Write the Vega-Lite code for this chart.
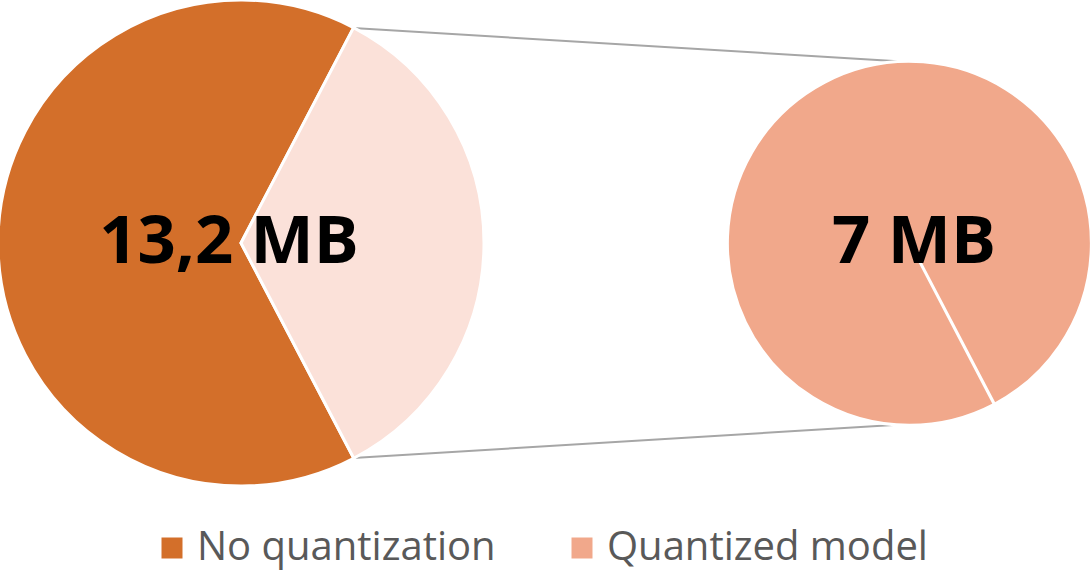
{
  "$schema": "https://vega.github.io/schema/vega-lite/v6.json",
  "width": 1092,
  "height": 577,
  "autosize": {"type": "none"},
  "padding": 0,
  "background": "white",
  "data": {
    "values": [
      {"pie": "Main", "slice": "No quantization", "size": 13.2},
      {"pie": "Main", "slice": "Other", "size": 7},
      {"pie": "Detail", "slice": "Quantized model", "size": 7}
    ]
  },
  "layer": [
    {
      "data": {"values": [{"c": "top"}]},
      "mark": {"type": "rule", "color": "#A6A6A6", "strokeWidth": 2, "xOffset": 112, "yOffset": -215, "y2Offset": -181},
      "encoding": {
        "x": {"datum": "Main", "type": "nominal"},
        "x2": {"datum": "Detail"},
        "y": {"datum": "Main", "type": "nominal"},
        "y2": {"datum": "Detail"}
      }
    },
    {
      "data": {"values": [{"c": "bottom"}]},
      "mark": {"type": "rule", "color": "#A6A6A6", "strokeWidth": 2, "xOffset": 112, "yOffset": 215, "y2Offset": 181},
      "encoding": {
        "x": {"datum": "Main", "type": "nominal"},
        "x2": {"datum": "Detail"},
        "y": {"datum": "Main", "type": "nominal"},
        "y2": {"datum": "Detail"}
      }
    },
    {
      "transform": [{"filter": "datum.pie === 'Main'"}],
      "mark": {"type": "arc", "radius": 243, "stroke": "white", "strokeWidth": 3},
      "encoding": {
        "x": {"field": "pie", "type": "nominal"},
        "y": {"field": "pie", "type": "nominal"},
        "theta": {"field": "size", "type": "quantitative", "stack": true, "scale": {"range": [0.4817, 6.7649]}},
        "order": {"field": "slice", "sort": "descending"},
        "color": {"field": "slice", "type": "nominal"}
      }
    },
    {
      "transform": [{"filter": "datum.pie === 'Detail'"}],
      "mark": {"type": "arc", "radius": 182, "stroke": "white", "strokeWidth": 3},
      "encoding": {
        "x": {"field": "pie", "type": "nominal"},
        "y": {"field": "pie", "type": "nominal"},
        "theta": {"field": "size", "type": "quantitative", "stack": true, "scale": {"range": [2.6599, 8.9421]}},
        "color": {"field": "slice", "type": "nominal"}
      }
    },
    {
      "transform": [
        {"filter": "datum.slice === 'No quantization'"},
        {"calculate": "replace(format(datum.size, '.1~f'), '.', ',') + ' MB'", "as": "label"}
      ],
      "mark": {"type": "text", "font": "Open Sans", "fontWeight": "bold", "fontSize": 67, "color": "black", "align": "center", "baseline": "alphabetic", "dx": -12, "dy": 20},
      "encoding": {
        "x": {"field": "pie", "type": "nominal"},
        "y": {"field": "pie", "type": "nominal"},
        "text": {"field": "label"}
      }
    },
    {
      "transform": [
        {"filter": "datum.slice === 'Quantized model'"},
        {"calculate": "replace(format(datum.size, '.1~f'), '.', ',') + ' MB'", "as": "label"}
      ],
      "mark": {"type": "text", "font": "Open Sans", "fontWeight": "bold", "fontSize": 67, "color": "black", "align": "center", "baseline": "alphabetic", "dx": 4, "dy": 20},
      "encoding": {
        "x": {"field": "pie", "type": "nominal"},
        "y": {"field": "pie", "type": "nominal"},
        "text": {"field": "label"}
      }
    }
  ],
  "encoding": {
    "x": {"type": "nominal", "axis": null, "scale": {"type": "point", "padding": 0, "domain": ["Main", "Detail"], "range": [241, 910]}},
    "y": {"type": "nominal", "axis": null, "scale": {"type": "point", "padding": 0, "domain": ["Main", "Detail"], "range": [243, 243]}},
    "color": {
      "type": "nominal",
      "scale": {"domain": ["No quantization", "Other", "Quantized model"], "range": ["#D36F2A", "#FBE1D9", "#F1A88B"]},
      "legend": {
        "title": null,
        "orient": "none",
        "legendX": 152,
        "legendY": 528,
        "direction": "horizontal",
        "values": ["No quantization", "Quantized model"],
        "symbolType": "square",
        "symbolSize": 441,
        "symbolStrokeWidth": 0,
        "labelFont": "Open Sans",
        "labelFontSize": 40,
        "labelColor": "#595959",
        "labelOffset": 5,
        "labelLimit": 500,
        "columnPadding": 66
      }
    }
  },
  "resolve": {"scale": {"theta": "independent"}},
  "config": {"view": {"stroke": null}}
}
